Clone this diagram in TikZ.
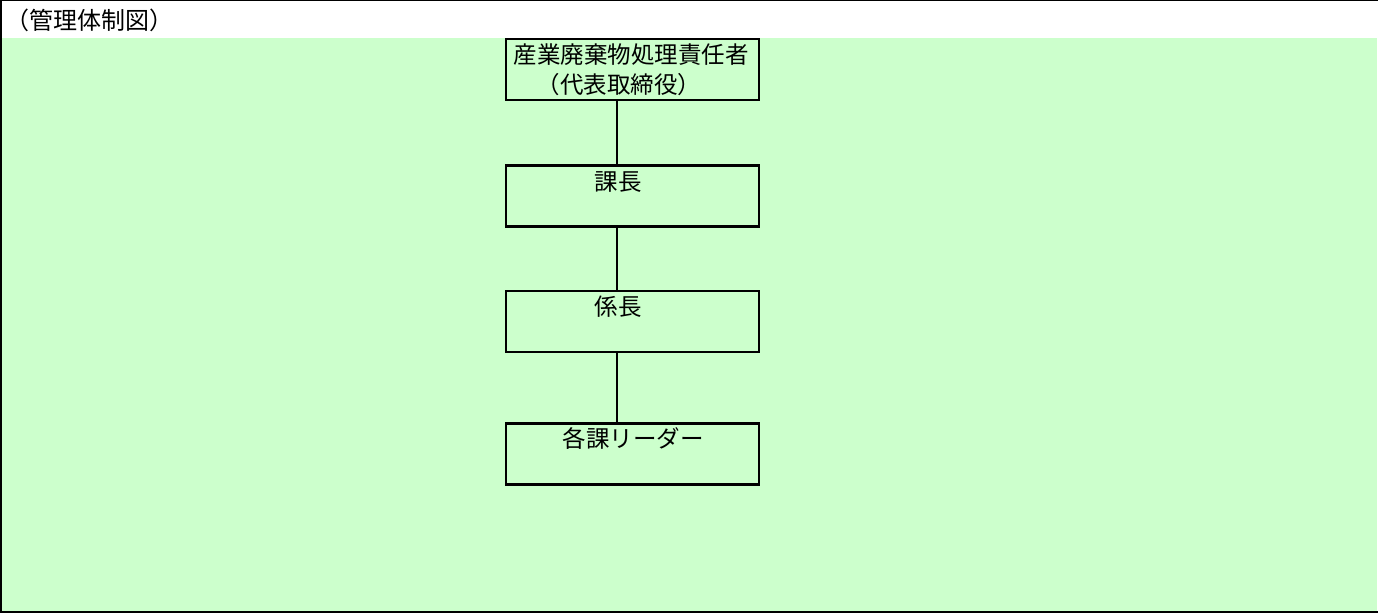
\documentclass[tikz,border=0pt]{standalone}
\usepackage{fontspec}
\setmainfont{Noto Sans CJK JP}
\definecolor{bggreen}{HTML}{CCFFCC}
\begin{document}
\begin{tikzpicture}[x=1pt,y=-1pt,line join=miter,
    post/.style={draw,line width=2.4pt,minimum width=253pt,minimum height=61pt,inner sep=0pt},
    lbl/.style={inner sep=0pt},
    link/.style={line width=2.4pt}]
  \useasboundingbox (0,0) rectangle (1378,613);
  \coordinate (tl) at (0,0.5);
  \coordinate (tr) at (1378,0.5);
  \coordinate (lt) at (0.75,0);
  \coordinate (lb) at (0.75,613);
  \coordinate (bl) at (0,612);
  \coordinate (br) at (1378,612);
  \coordinate (gtl) at (1,38);
  \coordinate (gbr) at (1377,611);

  \fill[bggreen] (gtl) rectangle (gbr);
  \draw[line width=1pt] (tl) -- (tr);
  \draw[line width=1.5pt] (lt) -- (lb);
  \draw[line width=2pt] (bl) -- (br);

  \node[lbl,anchor=west] (title) at (3,20) {\fontsize{24}{24} \selectfont （管理体制図）};

  \node[post] (b1) at (632.5,69.5) {};
  \node[post] (b2) at (632.5,196) {};
  \node[post] (b3) at (632.5,321.5) {};
  \node[post] (b4) at (632.5,454) {};

  \node[lbl] (t1a) at (630,55) {\fontsize{23.5}{23.5} \selectfont 産業廃棄物処理責任者};
  \node[lbl] (t1b) at (618,85) {\fontsize{23.5}{23.5} \selectfont （代表取締役）};
  \node[lbl] (t2) at (617,182) {\fontsize{23.5}{23.5} \selectfont 課長};
  \node[lbl] (t3) at (617,307) {\fontsize{23.5}{23.5} \selectfont 係長};
  \node[lbl] (t4) at (632,439) {\fontsize{23.5}{23.5} \selectfont 各課リーダー};

  \draw[link] (b1.south -| t2) -- (b2.north -| t2);
  \draw[link] (b2.south -| t2) -- (b3.north -| t2);
  \draw[link] (b3.south -| t2) -- (b4.north -| t2);

\end{tikzpicture}
\end{document}
